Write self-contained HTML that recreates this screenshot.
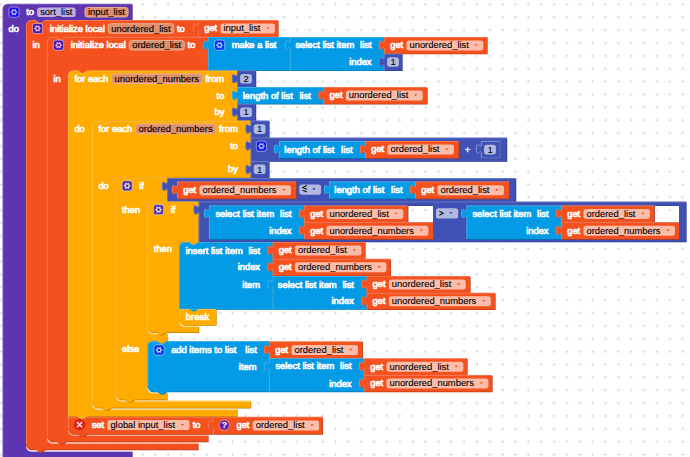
<!DOCTYPE html>
<html><head><meta charset="utf-8"><title>blocks</title>
<style>
html,body{margin:0;padding:0;background:#fff;}
body{width:690px;height:457px;overflow:hidden;}
svg{display:block;}
text{font-family:"Liberation Sans",sans-serif;font-size:9.4px;}
</style></head><body>
<svg width="690" height="457" viewBox="0 0 690 457">
<defs><pattern id="grid" x="-5.33" y="-2.03" width="12.86" height="12.86" patternUnits="userSpaceOnUse">
<path d="M 4.8,6.43 H 8.06 M 6.43,4.8 V 8.06" stroke="#cdcdcd" stroke-width="0.6"/></pattern></defs>
<rect width="690" height="457" fill="#fff"/>
<rect width="690" height="457" fill="url(#grid)"/>
<path d="M 2.5,8.92 A 5.12,5.12 0 0,1 7.62,3.8 H 132 V 20.1 H 45.2 l -3.84,2.56 -1.92,0 -3.84,-2.56 h -4.48 a 5.12,5.12 0 0,0 -5.12,5.12 V 445.88 a 5.12,5.12 0 0,0 5.12,5.12 H 132 V 470 H 7.62 a 5.12,5.12 0 0,1 -5.12,-5.12 z" fill="#462784" fill-rule="evenodd" transform="translate(0.64,0.64)"/>
<path d="M 2.5,8.92 A 5.12,5.12 0 0,1 7.62,3.8 H 132 V 20.1 H 45.2 l -3.84,2.56 -1.92,0 -3.84,-2.56 h -4.48 a 5.12,5.12 0 0,0 -5.12,5.12 V 445.88 a 5.12,5.12 0 0,0 5.12,5.12 H 132 V 470 H 7.62 a 5.12,5.12 0 0,1 -5.12,-5.12 z" fill="#5E35B1" fill-rule="evenodd"/>
<path d="M 26.3,446.28 a 5.12,5.12 0 0,0 5.12,5.12 H 132" fill="none" stroke="#fff" stroke-opacity="0.8" stroke-width="0.9"/>
<path d="M 2.85,464.88 V 8.92 A 5.12,5.12 0 0,1 7.62,4.15 H 132" fill="none" stroke="#fff" stroke-opacity="0.34" stroke-width="0.7"/>
<g transform="translate(8.9,7.08) scale(0.64)" opacity="0.7"><rect width="16" height="16" rx="4" ry="4" fill="#00f" stroke="#fff" stroke-width="1"/><polygon fill="#fff" stroke="#fff" stroke-width="0.8" stroke-linejoin="round" points="13.10,8.00 10.77,9.60 10.55,12.42 8.00,11.20 5.45,12.42 5.23,9.60 2.90,8.00 5.23,6.40 5.45,3.58 8.00,4.80 10.55,3.58 10.77,6.40"/><circle r="2.1" cx="8" cy="8" fill="#00f"/></g>
<text x="26.14" y="15.45" fill="#fff" text-anchor="start" stroke="#fff" stroke-width="0.65">to</text>
<rect x="37.18" y="7.4" width="38.39" height="9.6" rx="2.6" fill="#fff" fill-opacity="0.6"/>
<text x="40.18" y="15.45" fill="#000" text-anchor="start" stroke="#000" stroke-width="0.12">sort_list</text>
<rect x="84.97" y="7.4" width="43.1" height="9.6" rx="2.6" fill="rgb(222,143,108)" stroke="rgb(231,175,150)" stroke-width="1"/>
<text x="87.97" y="15.45" fill="#000" text-anchor="start" stroke="#000" stroke-width="0.12">input_list</text>
<text x="8.6" y="31.65" fill="#fff" text-anchor="start" stroke="#fff" stroke-width="0.65">do</text>
<path d="M 26,25.22 A 5.12,5.12 0 0,1 31.12,20.1 H 35.6 l 3.84,2.56 1.92,0 3.84,-2.56 H 198 v 3.2 c 0,6.4 -5.12,-5.12 -5.12,4.8 s 5.12,-1.6 5.12,4.8 V 36.9 H 66.2 l -3.84,2.56 -1.92,0 -3.84,-2.56 h -4.48 a 5.12,5.12 0 0,0 -5.12,5.12 V 437.68 a 5.12,5.12 0 0,0 5.12,5.12 H 198 V 449.5 H 45.2 l -3.84,2.56 -1.92,0 -3.84,-2.56 H 31.12 a 5.12,5.12 0 0,1 -5.12,-5.12 z" fill="#b73c16" fill-rule="evenodd" transform="translate(0.64,0.64)"/>
<path d="M 26,25.22 A 5.12,5.12 0 0,1 31.12,20.1 H 35.6 l 3.84,2.56 1.92,0 3.84,-2.56 H 198 v 3.2 c 0,6.4 -5.12,-5.12 -5.12,4.8 s 5.12,-1.6 5.12,4.8 V 36.9 H 66.2 l -3.84,2.56 -1.92,0 -3.84,-2.56 h -4.48 a 5.12,5.12 0 0,0 -5.12,5.12 V 437.68 a 5.12,5.12 0 0,0 5.12,5.12 H 198 V 449.5 H 45.2 l -3.84,2.56 -1.92,0 -3.84,-2.56 H 31.12 a 5.12,5.12 0 0,1 -5.12,-5.12 z" fill="#F4511E" fill-rule="evenodd"/>
<path d="M 47.3,438.08 a 5.12,5.12 0 0,0 5.12,5.12 H 198" fill="none" stroke="#fff" stroke-opacity="0.8" stroke-width="0.9"/>
<path d="M 26.35,444.38 V 25.22 A 5.12,5.12 0 0,1 31.12,20.45 H 35.6 l 3.84,2.56 1.92,0 3.84,-2.56 H 198" fill="none" stroke="#fff" stroke-opacity="0.34" stroke-width="0.7"/>
<g transform="translate(32.4,23.38) scale(0.64)" opacity="0.7"><rect width="16" height="16" rx="4" ry="4" fill="#00f" stroke="#fff" stroke-width="1"/><polygon fill="#fff" stroke="#fff" stroke-width="0.8" stroke-linejoin="round" points="13.10,8.00 10.77,9.60 10.55,12.42 8.00,11.20 5.45,12.42 5.23,9.60 2.90,8.00 5.23,6.40 5.45,3.58 8.00,4.80 10.55,3.58 10.77,6.40"/><circle r="2.1" cx="8" cy="8" fill="#00f"/></g>
<text x="49.64" y="31.75" fill="#fff" text-anchor="start" stroke="#fff" stroke-width="0.65">initialize local</text>
<rect x="108.22" y="23.7" width="65.57" height="9.6" rx="2.6" fill="rgb(222,143,108)" stroke="rgb(231,175,150)" stroke-width="1"/>
<text x="111.22" y="31.75" fill="#000" text-anchor="start" stroke="#000" stroke-width="0.12">unordered_list</text>
<text x="177" y="31.75" fill="#fff" text-anchor="start" stroke="#fff" stroke-width="0.65">to</text>
<text x="32.5" y="48.45" fill="#fff" text-anchor="start" stroke="#fff" stroke-width="0.65">in</text>
<path d="M 198,20.1 H 278 V 36.9 H 198 V 32.9 c 0,-6.4 -5.12,5.12 -5.12,-4.8 s 5.12,1.6 5.12,-4.8 z" fill="#b73c16" fill-rule="evenodd" transform="translate(0.64,0.64)"/>
<path d="M 198,20.1 H 278 V 36.9 H 198 V 32.9 c 0,-6.4 -5.12,5.12 -5.12,-4.8 s 5.12,1.6 5.12,-4.8 z" fill="#F4511E" fill-rule="evenodd"/>
<path d="M 198.35,36.9 V 32.9 c 0,-6.4 -5.12,5.12 -5.12,-4.8 s 5.12,1.6 5.12,-4.8 V 20.45 H 278" fill="none" stroke="#fff" stroke-opacity="0.34" stroke-width="0.7"/>
<text x="204.2" y="31.45" fill="#fff" text-anchor="start" stroke="#fff" stroke-width="0.65">get</text>
<rect x="220.47" y="23.6" width="54.4" height="10" rx="2.6" fill="#fff" fill-opacity="0.62"/>
<text x="223.47" y="31.45" fill="#000" text-anchor="start" stroke="#000" stroke-width="0.12">input_list</text>
<path d="M 266.07,27.4 h 3.4 l -1.7,1.9 z" fill="#F4511E"/>
<path d="M 47,42.02 A 5.12,5.12 0 0,1 52.12,36.9 H 56.6 l 3.84,2.56 1.92,0 3.84,-2.56 H 208 v 3.2 c 0,6.4 -5.12,-5.12 -5.12,4.8 s 5.12,-1.6 5.12,4.8 V 70.4 H 87.2 l -3.84,2.56 -1.92,0 -3.84,-2.56 h -4.48 a 5.12,5.12 0 0,0 -5.12,5.12 V 429.68 a 5.12,5.12 0 0,0 5.12,5.12 H 208 V 441.5 H 66.2 l -3.84,2.56 -1.92,0 -3.84,-2.56 H 52.12 a 5.12,5.12 0 0,1 -5.12,-5.12 z" fill="#b73c16" fill-rule="evenodd" transform="translate(0.64,0.64)"/>
<path d="M 47,42.02 A 5.12,5.12 0 0,1 52.12,36.9 H 56.6 l 3.84,2.56 1.92,0 3.84,-2.56 H 208 v 3.2 c 0,6.4 -5.12,-5.12 -5.12,4.8 s 5.12,-1.6 5.12,4.8 V 70.4 H 87.2 l -3.84,2.56 -1.92,0 -3.84,-2.56 h -4.48 a 5.12,5.12 0 0,0 -5.12,5.12 V 429.68 a 5.12,5.12 0 0,0 5.12,5.12 H 208 V 441.5 H 66.2 l -3.84,2.56 -1.92,0 -3.84,-2.56 H 52.12 a 5.12,5.12 0 0,1 -5.12,-5.12 z" fill="#F4511E" fill-rule="evenodd"/>
<path d="M 68.3,430.08 a 5.12,5.12 0 0,0 5.12,5.12 H 208" fill="none" stroke="#fff" stroke-opacity="0.8" stroke-width="0.9"/>
<path d="M 47.35,436.38 V 42.02 A 5.12,5.12 0 0,1 52.12,37.25 H 56.6 l 3.84,2.56 1.92,0 3.84,-2.56 H 208" fill="none" stroke="#fff" stroke-opacity="0.34" stroke-width="0.7"/>
<g transform="translate(53.4,40.08) scale(0.64)" opacity="0.7"><rect width="16" height="16" rx="4" ry="4" fill="#00f" stroke="#fff" stroke-width="1"/><polygon fill="#fff" stroke="#fff" stroke-width="0.8" stroke-linejoin="round" points="13.10,8.00 10.77,9.60 10.55,12.42 8.00,11.20 5.45,12.42 5.23,9.60 2.90,8.00 5.23,6.40 5.45,3.58 8.00,4.80 10.55,3.58 10.77,6.40"/><circle r="2.1" cx="8" cy="8" fill="#00f"/></g>
<text x="70.64" y="48.45" fill="#fff" text-anchor="start" stroke="#fff" stroke-width="0.65">initialize local</text>
<rect x="129.22" y="40.4" width="55.12" height="9.6" rx="2.6" fill="rgb(222,143,108)" stroke="rgb(231,175,150)" stroke-width="1"/>
<text x="132.22" y="48.45" fill="#000" text-anchor="start" stroke="#000" stroke-width="0.12">ordered_list</text>
<text x="187.54" y="48.45" fill="#fff" text-anchor="start" stroke="#fff" stroke-width="0.65">to</text>
<text x="53.5" y="81.95" fill="#fff" text-anchor="start" stroke="#fff" stroke-width="0.65">in</text>
<path d="M 208,36.9 H 290 v 3.2 c 0,6.4 -5.12,-5.12 -5.12,4.8 s 5.12,-1.6 5.12,4.8 V 70.4 H 208 V 49.7 c 0,-6.4 -5.12,5.12 -5.12,-4.8 s 5.12,1.6 5.12,-4.8 z" fill="#0274ab" fill-rule="evenodd" transform="translate(0.64,0.64)"/>
<path d="M 208,36.9 H 290 v 3.2 c 0,6.4 -5.12,-5.12 -5.12,4.8 s 5.12,-1.6 5.12,4.8 V 70.4 H 208 V 49.7 c 0,-6.4 -5.12,5.12 -5.12,-4.8 s 5.12,1.6 5.12,-4.8 z" fill="#039BE5" fill-rule="evenodd"/>
<path d="M 208.35,70.4 V 49.7 c 0,-6.4 -5.12,5.12 -5.12,-4.8 s 5.12,1.6 5.12,-4.8 V 37.25 H 290" fill="none" stroke="#fff" stroke-opacity="0.34" stroke-width="0.7"/>
<g transform="translate(214.4,40.08) scale(0.64)" opacity="0.7"><rect width="16" height="16" rx="4" ry="4" fill="#00f" stroke="#fff" stroke-width="1"/><polygon fill="#fff" stroke="#fff" stroke-width="0.8" stroke-linejoin="round" points="13.10,8.00 10.77,9.60 10.55,12.42 8.00,11.20 5.45,12.42 5.23,9.60 2.90,8.00 5.23,6.40 5.45,3.58 8.00,4.80 10.55,3.58 10.77,6.40"/><circle r="2.1" cx="8" cy="8" fill="#00f"/></g>
<text x="231.64" y="48.45" fill="#fff" text-anchor="start" stroke="#fff" stroke-width="0.65">make a list</text>
<path d="M 290,36.9 H 384 v 3.2 c 0,6.4 -5.12,-5.12 -5.12,4.8 s 5.12,-1.6 5.12,4.8 V 53.65 v 3.2 c 0,6.4 -5.12,-5.12 -5.12,4.8 s 5.12,-1.6 5.12,4.8 V 70.4 H 290 V 49.7 c 0,-6.4 -5.12,5.12 -5.12,-4.8 s 5.12,1.6 5.12,-4.8 z" fill="#0274ab" fill-rule="evenodd" transform="translate(0.64,0.64)"/>
<path d="M 290,36.9 H 384 v 3.2 c 0,6.4 -5.12,-5.12 -5.12,4.8 s 5.12,-1.6 5.12,4.8 V 53.65 v 3.2 c 0,6.4 -5.12,-5.12 -5.12,4.8 s 5.12,-1.6 5.12,4.8 V 70.4 H 290 V 49.7 c 0,-6.4 -5.12,5.12 -5.12,-4.8 s 5.12,1.6 5.12,-4.8 z" fill="#039BE5" fill-rule="evenodd"/>
<path d="M 290.35,70.4 V 49.7 c 0,-6.4 -5.12,5.12 -5.12,-4.8 s 5.12,1.6 5.12,-4.8 V 37.25 H 384" fill="none" stroke="#fff" stroke-opacity="0.34" stroke-width="0.7"/>
<text x="295.39" y="48.05" fill="#fff" text-anchor="start" stroke="#fff" stroke-width="0.65">select list item</text>
<text x="360.11" y="48.05" fill="#fff" text-anchor="start" stroke="#fff" stroke-width="0.65">list</text>
<text x="349.13" y="65.28" fill="#fff" text-anchor="start" stroke="#fff" stroke-width="0.65">index</text>
<path d="M 384,36.9 H 487 V 53.7 H 384 V 49.7 c 0,-6.4 -5.12,5.12 -5.12,-4.8 s 5.12,1.6 5.12,-4.8 z" fill="#b73c16" fill-rule="evenodd" transform="translate(0.64,0.64)"/>
<path d="M 384,36.9 H 487 V 53.7 H 384 V 49.7 c 0,-6.4 -5.12,5.12 -5.12,-4.8 s 5.12,1.6 5.12,-4.8 z" fill="#F4511E" fill-rule="evenodd"/>
<path d="M 384.35,53.7 V 49.7 c 0,-6.4 -5.12,5.12 -5.12,-4.8 s 5.12,1.6 5.12,-4.8 V 37.25 H 487" fill="none" stroke="#fff" stroke-opacity="0.34" stroke-width="0.7"/>
<text x="390.2" y="48.25" fill="#fff" text-anchor="start" stroke="#fff" stroke-width="0.65">get</text>
<rect x="406.47" y="40.4" width="76.87" height="10" rx="2.6" fill="#fff" fill-opacity="0.62"/>
<text x="409.47" y="48.25" fill="#000" text-anchor="start" stroke="#000" stroke-width="0.12">unordered_list</text>
<path d="M 474.54,44.2 h 3.4 l -1.7,1.9 z" fill="#F4511E"/>
<path d="M 384,53.7 H 402 V 70.4 H 384 V 66.5 c 0,-6.4 -5.12,5.12 -5.12,-4.8 s 5.12,1.6 5.12,-4.8 z" fill="#2f3c87" fill-rule="evenodd" transform="translate(0.64,0.64)"/>
<path d="M 384,53.7 H 402 V 70.4 H 384 V 66.5 c 0,-6.4 -5.12,5.12 -5.12,-4.8 s 5.12,1.6 5.12,-4.8 z" fill="#3F51B5" fill-rule="evenodd"/>
<path d="M 384.35,70.4 V 66.5 c 0,-6.4 -5.12,5.12 -5.12,-4.8 s 5.12,1.6 5.12,-4.8 V 54.05 H 402" fill="none" stroke="#fff" stroke-opacity="0.34" stroke-width="0.7"/>
<rect x="387.1" y="57.25" width="11.83" height="9.6" rx="2.6" fill="#fff" fill-opacity="0.6"/>
<text x="390.4" y="65.3" fill="#000" text-anchor="start" stroke="#000" stroke-width="0.1">1</text>
<path d="M 68,75.52 A 5.12,5.12 0 0,1 73.12,70.4 H 77.6 l 3.84,2.56 1.92,0 3.84,-2.56 H 237 v 3.2 c 0,6.4 -5.12,-5.12 -5.12,4.8 s 5.12,-1.6 5.12,4.8 V 87 v 3.2 c 0,6.4 -5.12,-5.12 -5.12,4.8 s 5.12,-1.6 5.12,4.8 V 103.8 v 3.2 c 0,6.4 -5.12,-5.12 -5.12,4.8 s 5.12,-1.6 5.12,4.8 V 120.6 H 111.2 l -3.84,2.56 -1.92,0 -3.84,-2.56 h -4.48 a 5.12,5.12 0 0,0 -5.12,5.12 V 403.78 a 5.12,5.12 0 0,0 5.12,5.12 H 237 V 416.3 H 87.2 l -3.84,2.56 -1.92,0 -3.84,-2.56 H 68 z" fill="#bf8000" fill-rule="evenodd" transform="translate(0.64,0.64)"/>
<path d="M 68,75.52 A 5.12,5.12 0 0,1 73.12,70.4 H 77.6 l 3.84,2.56 1.92,0 3.84,-2.56 H 237 v 3.2 c 0,6.4 -5.12,-5.12 -5.12,4.8 s 5.12,-1.6 5.12,4.8 V 87 v 3.2 c 0,6.4 -5.12,-5.12 -5.12,4.8 s 5.12,-1.6 5.12,4.8 V 103.8 v 3.2 c 0,6.4 -5.12,-5.12 -5.12,4.8 s 5.12,-1.6 5.12,4.8 V 120.6 H 111.2 l -3.84,2.56 -1.92,0 -3.84,-2.56 h -4.48 a 5.12,5.12 0 0,0 -5.12,5.12 V 403.78 a 5.12,5.12 0 0,0 5.12,5.12 H 237 V 416.3 H 87.2 l -3.84,2.56 -1.92,0 -3.84,-2.56 H 68 z" fill="#FFAB00" fill-rule="evenodd"/>
<path d="M 92.3,404.18 a 5.12,5.12 0 0,0 5.12,5.12 H 237" fill="none" stroke="#fff" stroke-opacity="0.8" stroke-width="0.9"/>
<path d="M 68.35,416.3 V 75.52 A 5.12,5.12 0 0,1 73.12,70.75 H 77.6 l 3.84,2.56 1.92,0 3.84,-2.56 H 237" fill="none" stroke="#fff" stroke-opacity="0.34" stroke-width="0.7"/>
<text x="74.4" y="81.95" fill="#fff" text-anchor="start" stroke="#fff" stroke-width="0.65">for each</text>
<rect x="111.57" y="73.9" width="90.66" height="9.6" rx="2.6" fill="rgb(222,143,108)" stroke="rgb(231,175,150)" stroke-width="1"/>
<text x="114.57" y="81.95" fill="#000" text-anchor="start" stroke="#000" stroke-width="0.12">unordered_numbers</text>
<text x="205.42" y="81.95" fill="#fff" text-anchor="start" stroke="#fff" stroke-width="0.65">from</text>
<text x="216.56" y="98.65" fill="#fff" text-anchor="start" stroke="#fff" stroke-width="0.65">to</text>
<text x="214.47" y="115.45" fill="#fff" text-anchor="start" stroke="#fff" stroke-width="0.65">by</text>
<text x="74.4" y="132.15" fill="#fff" text-anchor="start" stroke="#fff" stroke-width="0.65">do</text>
<path d="M 237,70.4 H 255.6 V 87 H 237 V 83.2 c 0,-6.4 -5.12,5.12 -5.12,-4.8 s 5.12,1.6 5.12,-4.8 z" fill="#2f3c87" fill-rule="evenodd" transform="translate(0.64,0.64)"/>
<path d="M 237,70.4 H 255.6 V 87 H 237 V 83.2 c 0,-6.4 -5.12,5.12 -5.12,-4.8 s 5.12,1.6 5.12,-4.8 z" fill="#3F51B5" fill-rule="evenodd"/>
<path d="M 237.35,87 V 83.2 c 0,-6.4 -5.12,5.12 -5.12,-4.8 s 5.12,1.6 5.12,-4.8 V 70.75 H 255.6" fill="none" stroke="#fff" stroke-opacity="0.34" stroke-width="0.7"/>
<rect x="240.1" y="73.9" width="11.83" height="9.6" rx="2.6" fill="#fff" fill-opacity="0.6"/>
<text x="243.4" y="81.95" fill="#000" text-anchor="start" stroke="#000" stroke-width="0.1">2</text>
<path d="M 237,87 H 323.4 v 3.2 c 0,6.4 -5.12,-5.12 -5.12,4.8 s 5.12,-1.6 5.12,4.8 V 103.8 H 237 V 99.8 c 0,-6.4 -5.12,5.12 -5.12,-4.8 s 5.12,1.6 5.12,-4.8 z" fill="#0274ab" fill-rule="evenodd" transform="translate(0.64,0.64)"/>
<path d="M 237,87 H 323.4 v 3.2 c 0,6.4 -5.12,-5.12 -5.12,4.8 s 5.12,-1.6 5.12,4.8 V 103.8 H 237 V 99.8 c 0,-6.4 -5.12,5.12 -5.12,-4.8 s 5.12,1.6 5.12,-4.8 z" fill="#039BE5" fill-rule="evenodd"/>
<path d="M 237.35,103.8 V 99.8 c 0,-6.4 -5.12,5.12 -5.12,-4.8 s 5.12,1.6 5.12,-4.8 V 87.35 H 323.4" fill="none" stroke="#fff" stroke-opacity="0.34" stroke-width="0.7"/>
<text x="242.75" y="98.65" fill="#fff" text-anchor="start" stroke="#fff" stroke-width="0.65">length of list</text>
<text x="299.51" y="98.65" fill="#fff" text-anchor="start" stroke="#fff" stroke-width="0.65">list</text>
<path d="M 323.4,87 H 427 V 103.8 H 323.4 V 99.8 c 0,-6.4 -5.12,5.12 -5.12,-4.8 s 5.12,1.6 5.12,-4.8 z" fill="#b73c16" fill-rule="evenodd" transform="translate(0.64,0.64)"/>
<path d="M 323.4,87 H 427 V 103.8 H 323.4 V 99.8 c 0,-6.4 -5.12,5.12 -5.12,-4.8 s 5.12,1.6 5.12,-4.8 z" fill="#F4511E" fill-rule="evenodd"/>
<path d="M 323.75,103.8 V 99.8 c 0,-6.4 -5.12,5.12 -5.12,-4.8 s 5.12,1.6 5.12,-4.8 V 87.35 H 427" fill="none" stroke="#fff" stroke-opacity="0.34" stroke-width="0.7"/>
<text x="329.6" y="98.35" fill="#fff" text-anchor="start" stroke="#fff" stroke-width="0.65">get</text>
<rect x="345.87" y="90.5" width="76.87" height="10" rx="2.6" fill="#fff" fill-opacity="0.62"/>
<text x="348.87" y="98.35" fill="#000" text-anchor="start" stroke="#000" stroke-width="0.12">unordered_list</text>
<path d="M 413.94,94.3 h 3.4 l -1.7,1.9 z" fill="#F4511E"/>
<path d="M 237,103.8 H 255.6 V 120.6 H 237 V 116.6 c 0,-6.4 -5.12,5.12 -5.12,-4.8 s 5.12,1.6 5.12,-4.8 z" fill="#2f3c87" fill-rule="evenodd" transform="translate(0.64,0.64)"/>
<path d="M 237,103.8 H 255.6 V 120.6 H 237 V 116.6 c 0,-6.4 -5.12,5.12 -5.12,-4.8 s 5.12,1.6 5.12,-4.8 z" fill="#3F51B5" fill-rule="evenodd"/>
<path d="M 237.35,120.6 V 116.6 c 0,-6.4 -5.12,5.12 -5.12,-4.8 s 5.12,1.6 5.12,-4.8 V 104.15 H 255.6" fill="none" stroke="#fff" stroke-opacity="0.34" stroke-width="0.7"/>
<rect x="240.1" y="107.4" width="11.83" height="9.6" rx="2.6" fill="#fff" fill-opacity="0.6"/>
<text x="243.4" y="115.45" fill="#000" text-anchor="start" stroke="#000" stroke-width="0.1">1</text>
<path d="M 68,416.8 H 77.6 l 3.84,2.56 1.92,0 3.84,-2.56 H 213 v 3.2 c 0,6.4 -5.12,-5.12 -5.12,4.8 s 5.12,-1.6 5.12,4.8 V 434 H 87.2 l -3.84,2.56 -1.92,0 -3.84,-2.56 H 73.12 a 5.12,5.12 0 0,1 -5.12,-5.12 z" fill="#b73c16" fill-rule="evenodd" transform="translate(0.64,0.64)"/>
<path d="M 68,416.8 H 77.6 l 3.84,2.56 1.92,0 3.84,-2.56 H 213 v 3.2 c 0,6.4 -5.12,-5.12 -5.12,4.8 s 5.12,-1.6 5.12,4.8 V 434 H 87.2 l -3.84,2.56 -1.92,0 -3.84,-2.56 H 73.12 a 5.12,5.12 0 0,1 -5.12,-5.12 z" fill="#F4511E" fill-rule="evenodd"/>
<path d="M 68.35,428.88 V 417.15 H 213" fill="none" stroke="#fff" stroke-opacity="0.34" stroke-width="0.7"/>
<g transform="translate(79.52,424.7)"><circle r="5.12" fill="#e6251c" stroke="#b5140e" stroke-width="0.8"/><path d="M -2.2,-2.2 L 2.2,2.2 M 2.2,-2.2 L -2.2,2.2" stroke="#fff" stroke-width="1.25" stroke-linecap="round"/></g>
<text x="91.64" y="427.95" fill="#fff" text-anchor="start" stroke="#fff" stroke-width="0.65">set</text>
<rect x="107.38" y="420.1" width="82.1" height="10" rx="2.6" fill="#fff" fill-opacity="0.62"/>
<text x="110.38" y="427.95" fill="#000" text-anchor="start" stroke="#000" stroke-width="0.12">global input_list</text>
<path d="M 180.68,423.9 h 3.4 l -1.7,1.9 z" fill="#F4511E"/>
<text x="192.68" y="427.95" fill="#fff" text-anchor="start" stroke="#fff" stroke-width="0.65">to</text>
<path d="M 213,416.8 H 322.4 V 434 H 213 V 429.6 c 0,-6.4 -5.12,5.12 -5.12,-4.8 s 5.12,1.6 5.12,-4.8 z" fill="#b73c16" fill-rule="evenodd" transform="translate(0.64,0.64)"/>
<path d="M 213,416.8 H 322.4 V 434 H 213 V 429.6 c 0,-6.4 -5.12,5.12 -5.12,-4.8 s 5.12,1.6 5.12,-4.8 z" fill="#F4511E" fill-rule="evenodd"/>
<path d="M 213.35,434 V 429.6 c 0,-6.4 -5.12,5.12 -5.12,-4.8 s 5.12,1.6 5.12,-4.8 V 417.15 H 322.4" fill="none" stroke="#fff" stroke-opacity="0.34" stroke-width="0.7"/>
<g transform="translate(224.32,425.1)"><circle r="5.12" fill="#00f" stroke="#fff" stroke-width="0.6" opacity="0.62"/><text x="0" y="2.6" fill="#fff" text-anchor="middle" font-weight="bold" font-size="7.4">?</text></g>
<text x="236.44" y="428.35" fill="#fff" text-anchor="start" stroke="#fff" stroke-width="0.65">get</text>
<rect x="252.71" y="420.5" width="66.42" height="10" rx="2.6" fill="#fff" fill-opacity="0.62"/>
<text x="255.71" y="428.35" fill="#000" text-anchor="start" stroke="#000" stroke-width="0.12">ordered_list</text>
<path d="M 310.33,424.3 h 3.4 l -1.7,1.9 z" fill="#F4511E"/>
<path d="M 92,125.72 A 5.12,5.12 0 0,1 97.12,120.6 H 101.6 l 3.84,2.56 1.92,0 3.84,-2.56 H 250.6 v 3.2 c 0,6.4 -5.12,-5.12 -5.12,4.8 s 5.12,-1.6 5.12,4.8 V 137.6 v 3.2 c 0,6.4 -5.12,-5.12 -5.12,4.8 s 5.12,-1.6 5.12,4.8 V 161.2 v 3.2 c 0,6.4 -5.12,-5.12 -5.12,4.8 s 5.12,-1.6 5.12,4.8 V 177.4 H 134.8 l -3.84,2.56 -1.92,0 -3.84,-2.56 h -4.48 a 5.12,5.12 0 0,0 -5.12,5.12 V 395.48 a 5.12,5.12 0 0,0 5.12,5.12 H 250.6 V 407.8 H 111.2 l -3.84,2.56 -1.92,0 -3.84,-2.56 H 97.12 a 5.12,5.12 0 0,1 -5.12,-5.12 z" fill="#bf8000" fill-rule="evenodd" transform="translate(0.64,0.64)"/>
<path d="M 92,125.72 A 5.12,5.12 0 0,1 97.12,120.6 H 101.6 l 3.84,2.56 1.92,0 3.84,-2.56 H 250.6 v 3.2 c 0,6.4 -5.12,-5.12 -5.12,4.8 s 5.12,-1.6 5.12,4.8 V 137.6 v 3.2 c 0,6.4 -5.12,-5.12 -5.12,4.8 s 5.12,-1.6 5.12,4.8 V 161.2 v 3.2 c 0,6.4 -5.12,-5.12 -5.12,4.8 s 5.12,-1.6 5.12,4.8 V 177.4 H 134.8 l -3.84,2.56 -1.92,0 -3.84,-2.56 h -4.48 a 5.12,5.12 0 0,0 -5.12,5.12 V 395.48 a 5.12,5.12 0 0,0 5.12,5.12 H 250.6 V 407.8 H 111.2 l -3.84,2.56 -1.92,0 -3.84,-2.56 H 97.12 a 5.12,5.12 0 0,1 -5.12,-5.12 z" fill="#FFAB00" fill-rule="evenodd"/>
<path d="M 115.9,395.88 a 5.12,5.12 0 0,0 5.12,5.12 H 250.6" fill="none" stroke="#fff" stroke-opacity="0.8" stroke-width="0.9"/>
<path d="M 92.35,402.68 V 125.72 A 5.12,5.12 0 0,1 97.12,120.95 H 101.6 l 3.84,2.56 1.92,0 3.84,-2.56 H 250.6" fill="none" stroke="#fff" stroke-opacity="0.34" stroke-width="0.7"/>
<text x="98.4" y="132.15" fill="#fff" text-anchor="start" stroke="#fff" stroke-width="0.65">for each</text>
<rect x="135.57" y="124.1" width="80.2" height="9.6" rx="2.6" fill="rgb(222,143,108)" stroke="rgb(231,175,150)" stroke-width="1"/>
<text x="138.57" y="132.15" fill="#000" text-anchor="start" stroke="#000" stroke-width="0.12">ordered_numbers</text>
<text x="218.97" y="132.15" fill="#fff" text-anchor="start" stroke="#fff" stroke-width="0.65">from</text>
<text x="230.16" y="149.15" fill="#fff" text-anchor="start" stroke="#fff" stroke-width="0.65">to</text>
<text x="228.07" y="171.95" fill="#fff" text-anchor="start" stroke="#fff" stroke-width="0.65">by</text>
<text x="98.4" y="189.05" fill="#fff" text-anchor="start" stroke="#fff" stroke-width="0.65">do</text>
<path d="M 250.6,120.6 H 269 V 137.6 H 250.6 V 133.4 c 0,-6.4 -5.12,5.12 -5.12,-4.8 s 5.12,1.6 5.12,-4.8 z" fill="#2f3c87" fill-rule="evenodd" transform="translate(0.64,0.64)"/>
<path d="M 250.6,120.6 H 269 V 137.6 H 250.6 V 133.4 c 0,-6.4 -5.12,5.12 -5.12,-4.8 s 5.12,1.6 5.12,-4.8 z" fill="#3F51B5" fill-rule="evenodd"/>
<path d="M 250.95,137.6 V 133.4 c 0,-6.4 -5.12,5.12 -5.12,-4.8 s 5.12,1.6 5.12,-4.8 V 120.95 H 269" fill="none" stroke="#fff" stroke-opacity="0.34" stroke-width="0.7"/>
<rect x="253.7" y="124.3" width="11.83" height="9.6" rx="2.6" fill="#fff" fill-opacity="0.6"/>
<text x="257" y="132.35" fill="#000" text-anchor="start" stroke="#000" stroke-width="0.1">1</text>
<path d="M 250.6,137.6 H 506.6 V 161.2 H 250.6 V 150.4 c 0,-6.4 -5.12,5.12 -5.12,-4.8 s 5.12,1.6 5.12,-4.8 z" fill="#2f3c87" fill-rule="evenodd" transform="translate(0.64,0.64)"/>
<path d="M 250.6,137.6 H 506.6 V 161.2 H 250.6 V 150.4 c 0,-6.4 -5.12,5.12 -5.12,-4.8 s 5.12,1.6 5.12,-4.8 z" fill="#3F51B5" fill-rule="evenodd"/>
<path d="M 250.95,161.2 V 150.4 c 0,-6.4 -5.12,5.12 -5.12,-4.8 s 5.12,1.6 5.12,-4.8 V 137.95 H 506.6" fill="none" stroke="#fff" stroke-opacity="0.34" stroke-width="0.7"/>
<g transform="translate(256.3,141.08) scale(0.64)" opacity="0.7"><rect width="16" height="16" rx="4" ry="4" fill="#00f" stroke="#fff" stroke-width="1"/><polygon fill="#fff" stroke="#fff" stroke-width="0.8" stroke-linejoin="round" points="13.10,8.00 10.77,9.60 10.55,12.42 8.00,11.20 5.45,12.42 5.23,9.60 2.90,8.00 5.23,6.40 5.45,3.58 8.00,4.80 10.55,3.58 10.77,6.40"/><circle r="2.1" cx="8" cy="8" fill="#00f"/></g>
<path d="M 279,141 H 365 v 3.2 c 0,6.4 -5.12,-5.12 -5.12,4.8 s 5.12,-1.6 5.12,4.8 V 158 H 279 V 153.8 c 0,-6.4 -5.12,5.12 -5.12,-4.8 s 5.12,1.6 5.12,-4.8 z" fill="#0274ab" fill-rule="evenodd" transform="translate(0.64,0.64)"/>
<path d="M 279,141 H 365 v 3.2 c 0,6.4 -5.12,-5.12 -5.12,4.8 s 5.12,-1.6 5.12,4.8 V 158 H 279 V 153.8 c 0,-6.4 -5.12,5.12 -5.12,-4.8 s 5.12,1.6 5.12,-4.8 z" fill="#039BE5" fill-rule="evenodd"/>
<path d="M 279.35,158 V 153.8 c 0,-6.4 -5.12,5.12 -5.12,-4.8 s 5.12,1.6 5.12,-4.8 V 141.35 H 365" fill="none" stroke="#fff" stroke-opacity="0.34" stroke-width="0.7"/>
<text x="284.35" y="152.75" fill="#fff" text-anchor="start" stroke="#fff" stroke-width="0.65">length of list</text>
<text x="341.11" y="152.75" fill="#fff" text-anchor="start" stroke="#fff" stroke-width="0.65">list</text>
<path d="M 365,141 H 458.4 V 158 H 365 V 153.8 c 0,-6.4 -5.12,5.12 -5.12,-4.8 s 5.12,1.6 5.12,-4.8 z" fill="#b73c16" fill-rule="evenodd" transform="translate(0.64,0.64)"/>
<path d="M 365,141 H 458.4 V 158 H 365 V 153.8 c 0,-6.4 -5.12,5.12 -5.12,-4.8 s 5.12,1.6 5.12,-4.8 z" fill="#F4511E" fill-rule="evenodd"/>
<path d="M 365.35,158 V 153.8 c 0,-6.4 -5.12,5.12 -5.12,-4.8 s 5.12,1.6 5.12,-4.8 V 141.35 H 458.4" fill="none" stroke="#fff" stroke-opacity="0.34" stroke-width="0.7"/>
<text x="371.2" y="152.45" fill="#fff" text-anchor="start" stroke="#fff" stroke-width="0.65">get</text>
<rect x="387.47" y="144.6" width="66.42" height="10" rx="2.6" fill="#fff" fill-opacity="0.62"/>
<text x="390.47" y="152.45" fill="#000" text-anchor="start" stroke="#000" stroke-width="0.12">ordered_list</text>
<path d="M 445.09,148.4 h 3.4 l -1.7,1.9 z" fill="#F4511E"/>
<text x="467.4" y="152.75" fill="#fff" text-anchor="middle" stroke="#fff" stroke-width="0.4">+</text>
<path d="M 481,141 H 500.4 V 158.2 H 481 V 153.8 c 0,-6.4 -5.12,5.12 -5.12,-4.8 s 5.12,1.6 5.12,-4.8 z" fill="#2f3c87" fill-rule="evenodd" transform="translate(0.64,0.64)"/>
<path d="M 481,141 H 500.4 V 158.2 H 481 V 153.8 c 0,-6.4 -5.12,5.12 -5.12,-4.8 s 5.12,1.6 5.12,-4.8 z" fill="#3F51B5" fill-rule="evenodd"/>
<path d="M 481.35,158.2 V 153.8 c 0,-6.4 -5.12,5.12 -5.12,-4.8 s 5.12,1.6 5.12,-4.8 V 141.35 H 500.4" fill="none" stroke="#fff" stroke-opacity="0.55" stroke-width="0.7"/>
<rect x="484.1" y="144.8" width="11.83" height="9.6" rx="2.6" fill="#fff" fill-opacity="0.6"/>
<text x="487.4" y="152.85" fill="#000" text-anchor="start" stroke="#000" stroke-width="0.1">1</text>
<path d="M 481.3,158 H 500.2 V 141.3" fill="none" stroke="#fff" stroke-opacity="0.35" stroke-width="0.7"/>
<path d="M 250.6,161.2 H 269 V 177.4 H 250.6 V 174 c 0,-6.4 -5.12,5.12 -5.12,-4.8 s 5.12,1.6 5.12,-4.8 z" fill="#2f3c87" fill-rule="evenodd" transform="translate(0.64,0.64)"/>
<path d="M 250.6,161.2 H 269 V 177.4 H 250.6 V 174 c 0,-6.4 -5.12,5.12 -5.12,-4.8 s 5.12,1.6 5.12,-4.8 z" fill="#3F51B5" fill-rule="evenodd"/>
<path d="M 250.95,177.4 V 174 c 0,-6.4 -5.12,5.12 -5.12,-4.8 s 5.12,1.6 5.12,-4.8 V 161.55 H 269" fill="none" stroke="#fff" stroke-opacity="0.34" stroke-width="0.7"/>
<rect x="253.7" y="164.5" width="11.83" height="9.6" rx="2.6" fill="#fff" fill-opacity="0.6"/>
<text x="257" y="172.55" fill="#000" text-anchor="start" stroke="#000" stroke-width="0.1">1</text>
<path d="M 115.6,182.52 A 5.12,5.12 0 0,1 120.72,177.4 H 125.2 l 3.84,2.56 1.92,0 3.84,-2.56 H 167 v 3.2 c 0,6.4 -5.12,-5.12 -5.12,4.8 s 5.12,-1.6 5.12,4.8 V 201.4 H 166.2 l -3.84,2.56 -1.92,0 -3.84,-2.56 h -4.48 a 5.12,5.12 0 0,0 -5.12,5.12 V 328.08 a 5.12,5.12 0 0,0 5.12,5.12 H 167 V 340.7 H 166.2 l -3.84,2.56 -1.92,0 -3.84,-2.56 h -4.48 a 5.12,5.12 0 0,0 -5.12,5.12 V 387.38 a 5.12,5.12 0 0,0 5.12,5.12 H 167 V 399.5 H 134.8 l -3.84,2.56 -1.92,0 -3.84,-2.56 H 120.72 a 5.12,5.12 0 0,1 -5.12,-5.12 z" fill="#bf8000" fill-rule="evenodd" transform="translate(0.64,0.64)"/>
<path d="M 115.6,182.52 A 5.12,5.12 0 0,1 120.72,177.4 H 125.2 l 3.84,2.56 1.92,0 3.84,-2.56 H 167 v 3.2 c 0,6.4 -5.12,-5.12 -5.12,4.8 s 5.12,-1.6 5.12,4.8 V 201.4 H 166.2 l -3.84,2.56 -1.92,0 -3.84,-2.56 h -4.48 a 5.12,5.12 0 0,0 -5.12,5.12 V 328.08 a 5.12,5.12 0 0,0 5.12,5.12 H 167 V 340.7 H 166.2 l -3.84,2.56 -1.92,0 -3.84,-2.56 h -4.48 a 5.12,5.12 0 0,0 -5.12,5.12 V 387.38 a 5.12,5.12 0 0,0 5.12,5.12 H 167 V 399.5 H 134.8 l -3.84,2.56 -1.92,0 -3.84,-2.56 H 120.72 a 5.12,5.12 0 0,1 -5.12,-5.12 z" fill="#FFAB00" fill-rule="evenodd"/>
<path d="M 147.3,328.48 a 5.12,5.12 0 0,0 5.12,5.12 H 167 M 147.3,387.78 a 5.12,5.12 0 0,0 5.12,5.12 H 167" fill="none" stroke="#fff" stroke-opacity="0.8" stroke-width="0.9"/>
<path d="M 115.95,394.38 V 182.52 A 5.12,5.12 0 0,1 120.72,177.75 H 125.2 l 3.84,2.56 1.92,0 3.84,-2.56 H 167" fill="none" stroke="#fff" stroke-opacity="0.34" stroke-width="0.7"/>
<g transform="translate(122,180.68) scale(0.64)" opacity="0.7"><rect width="16" height="16" rx="4" ry="4" fill="#00f" stroke="#fff" stroke-width="1"/><polygon fill="#fff" stroke="#fff" stroke-width="0.8" stroke-linejoin="round" points="13.10,8.00 10.77,9.60 10.55,12.42 8.00,11.20 5.45,12.42 5.23,9.60 2.90,8.00 5.23,6.40 5.45,3.58 8.00,4.80 10.55,3.58 10.77,6.40"/><circle r="2.1" cx="8" cy="8" fill="#00f"/></g>
<text x="139.24" y="189.05" fill="#fff" text-anchor="start" stroke="#fff" stroke-width="0.65">if</text>
<text x="122" y="212.95" fill="#fff" text-anchor="start" stroke="#fff" stroke-width="0.65">then</text>
<text x="122" y="352.25" fill="#fff" text-anchor="start" stroke="#fff" stroke-width="0.65">else</text>
<path d="M 167,178 H 515.6 V 201.5 H 167 V 190.8 c 0,-6.4 -5.12,5.12 -5.12,-4.8 s 5.12,1.6 5.12,-4.8 z" fill="#2f3c87" fill-rule="evenodd" transform="translate(0.64,0.64)"/>
<path d="M 167,178 H 515.6 V 201.5 H 167 V 190.8 c 0,-6.4 -5.12,5.12 -5.12,-4.8 s 5.12,1.6 5.12,-4.8 z" fill="#3F51B5" fill-rule="evenodd"/>
<path d="M 167.35,201.5 V 190.8 c 0,-6.4 -5.12,5.12 -5.12,-4.8 s 5.12,1.6 5.12,-4.8 V 178.35 H 515.6" fill="none" stroke="#fff" stroke-opacity="0.34" stroke-width="0.7"/>
<path d="M 177,181.6 H 296 V 198.6 H 177 V 194.4 c 0,-6.4 -5.12,5.12 -5.12,-4.8 s 5.12,1.6 5.12,-4.8 z" fill="#b73c16" fill-rule="evenodd" transform="translate(0.64,0.64)"/>
<path d="M 177,181.6 H 296 V 198.6 H 177 V 194.4 c 0,-6.4 -5.12,5.12 -5.12,-4.8 s 5.12,1.6 5.12,-4.8 z" fill="#F4511E" fill-rule="evenodd"/>
<path d="M 177.35,198.6 V 194.4 c 0,-6.4 -5.12,5.12 -5.12,-4.8 s 5.12,1.6 5.12,-4.8 V 181.95 H 296" fill="none" stroke="#fff" stroke-opacity="0.34" stroke-width="0.7"/>
<text x="183.2" y="193.15" fill="#fff" text-anchor="start" stroke="#fff" stroke-width="0.65">get</text>
<rect x="199.47" y="185.3" width="91.5" height="10" rx="2.6" fill="#fff" fill-opacity="0.62"/>
<text x="202.47" y="193.15" fill="#000" text-anchor="start" stroke="#000" stroke-width="0.12">ordered_numbers</text>
<path d="M 282.17,189.1 h 3.4 l -1.7,1.9 z" fill="#F4511E"/>
<rect x="299.3" y="184.4" width="21.8" height="10.3" rx="2.6" fill="#fff" fill-opacity="0.6"/>
<path d="M 306.9,185.6 l -4.2,1.9 l 4.2,1.9 M 302.7,190.2 l 4.2,1.9" fill="none" stroke="#111" stroke-width="1.05"/>
<path d="M 312.2,188.3 h 3.4 l -1.7,1.9 z" fill="#354499"/>
<path d="M 329,181.6 H 415 v 3.2 c 0,6.4 -5.12,-5.12 -5.12,4.8 s 5.12,-1.6 5.12,4.8 V 198.6 H 329 V 194.4 c 0,-6.4 -5.12,5.12 -5.12,-4.8 s 5.12,1.6 5.12,-4.8 z" fill="#0274ab" fill-rule="evenodd" transform="translate(0.64,0.64)"/>
<path d="M 329,181.6 H 415 v 3.2 c 0,6.4 -5.12,-5.12 -5.12,4.8 s 5.12,-1.6 5.12,4.8 V 198.6 H 329 V 194.4 c 0,-6.4 -5.12,5.12 -5.12,-4.8 s 5.12,1.6 5.12,-4.8 z" fill="#039BE5" fill-rule="evenodd"/>
<path d="M 329.35,198.6 V 194.4 c 0,-6.4 -5.12,5.12 -5.12,-4.8 s 5.12,1.6 5.12,-4.8 V 181.95 H 415" fill="none" stroke="#fff" stroke-opacity="0.34" stroke-width="0.7"/>
<text x="334.35" y="192.75" fill="#fff" text-anchor="start" stroke="#fff" stroke-width="0.65">length of list</text>
<text x="391.11" y="192.75" fill="#fff" text-anchor="start" stroke="#fff" stroke-width="0.65">list</text>
<path d="M 415,181.6 H 509 V 198.6 H 415 V 194.4 c 0,-6.4 -5.12,5.12 -5.12,-4.8 s 5.12,1.6 5.12,-4.8 z" fill="#b73c16" fill-rule="evenodd" transform="translate(0.64,0.64)"/>
<path d="M 415,181.6 H 509 V 198.6 H 415 V 194.4 c 0,-6.4 -5.12,5.12 -5.12,-4.8 s 5.12,1.6 5.12,-4.8 z" fill="#F4511E" fill-rule="evenodd"/>
<path d="M 415.35,198.6 V 194.4 c 0,-6.4 -5.12,5.12 -5.12,-4.8 s 5.12,1.6 5.12,-4.8 V 181.95 H 509" fill="none" stroke="#fff" stroke-opacity="0.34" stroke-width="0.7"/>
<text x="421.2" y="193.15" fill="#fff" text-anchor="start" stroke="#fff" stroke-width="0.65">get</text>
<rect x="437.47" y="185.3" width="66.42" height="10" rx="2.6" fill="#fff" fill-opacity="0.62"/>
<text x="440.47" y="193.15" fill="#000" text-anchor="start" stroke="#000" stroke-width="0.12">ordered_list</text>
<path d="M 495.09,189.1 h 3.4 l -1.7,1.9 z" fill="#F4511E"/>
<path d="M 147,206.52 A 5.12,5.12 0 0,1 152.12,201.4 H 156.6 l 3.84,2.56 1.92,0 3.84,-2.56 H 198.6 v 3.2 c 0,6.4 -5.12,-5.12 -5.12,4.8 s 5.12,-1.6 5.12,4.8 V 242 H 198.2 l -3.84,2.56 -1.92,0 -3.84,-2.56 h -4.48 a 5.12,5.12 0 0,0 -5.12,5.12 V 320.88 a 5.12,5.12 0 0,0 5.12,5.12 H 198.6 V 332.3 H 166.2 l -3.84,2.56 -1.92,0 -3.84,-2.56 H 152.12 a 5.12,5.12 0 0,1 -5.12,-5.12 z" fill="#bf8000" fill-rule="evenodd" transform="translate(0.64,0.64)"/>
<path d="M 147,206.52 A 5.12,5.12 0 0,1 152.12,201.4 H 156.6 l 3.84,2.56 1.92,0 3.84,-2.56 H 198.6 v 3.2 c 0,6.4 -5.12,-5.12 -5.12,4.8 s 5.12,-1.6 5.12,4.8 V 242 H 198.2 l -3.84,2.56 -1.92,0 -3.84,-2.56 h -4.48 a 5.12,5.12 0 0,0 -5.12,5.12 V 320.88 a 5.12,5.12 0 0,0 5.12,5.12 H 198.6 V 332.3 H 166.2 l -3.84,2.56 -1.92,0 -3.84,-2.56 H 152.12 a 5.12,5.12 0 0,1 -5.12,-5.12 z" fill="#FFAB00" fill-rule="evenodd"/>
<path d="M 179.3,321.28 a 5.12,5.12 0 0,0 5.12,5.12 H 198.6" fill="none" stroke="#fff" stroke-opacity="0.8" stroke-width="0.9"/>
<path d="M 147.35,327.18 V 206.52 A 5.12,5.12 0 0,1 152.12,201.75 H 156.6 l 3.84,2.56 1.92,0 3.84,-2.56 H 198.6" fill="none" stroke="#fff" stroke-opacity="0.34" stroke-width="0.7"/>
<g transform="translate(153.4,204.58) scale(0.64)" opacity="0.7"><rect width="16" height="16" rx="4" ry="4" fill="#00f" stroke="#fff" stroke-width="1"/><polygon fill="#fff" stroke="#fff" stroke-width="0.8" stroke-linejoin="round" points="13.10,8.00 10.77,9.60 10.55,12.42 8.00,11.20 5.45,12.42 5.23,9.60 2.90,8.00 5.23,6.40 5.45,3.58 8.00,4.80 10.55,3.58 10.77,6.40"/><circle r="2.1" cx="8" cy="8" fill="#00f"/></g>
<text x="170.64" y="212.95" fill="#fff" text-anchor="start" stroke="#fff" stroke-width="0.65">if</text>
<text x="153.8" y="252.25" fill="#fff" text-anchor="start" stroke="#fff" stroke-width="0.65">then</text>
<path d="M 198.6,201.6 H 686 V 241.6 H 198.6 V 214.4 c 0,-6.4 -5.12,5.12 -5.12,-4.8 s 5.12,1.6 5.12,-4.8 z M 407.6,205.4 V 222 H 433 V 205.4 z M 654,205.4 V 222 H 679 V 205.4 z" fill="#2f3c87" fill-rule="evenodd" transform="translate(0.64,0.64)"/>
<path d="M 198.6,201.6 H 686 V 241.6 H 198.6 V 214.4 c 0,-6.4 -5.12,5.12 -5.12,-4.8 s 5.12,1.6 5.12,-4.8 z M 407.6,205.4 V 222 H 433 V 205.4 z M 654,205.4 V 222 H 679 V 205.4 z" fill="#3F51B5" fill-rule="evenodd"/>
<path d="M 198.95,241.6 V 214.4 c 0,-6.4 -5.12,5.12 -5.12,-4.8 s 5.12,1.6 5.12,-4.8 V 201.95 H 686" fill="none" stroke="#fff" stroke-opacity="0.34" stroke-width="0.7"/>
<path d="M 209,205.4 H 304 v 3.2 c 0,6.4 -5.12,-5.12 -5.12,4.8 s 5.12,-1.6 5.12,4.8 V 222.2 v 3.2 c 0,6.4 -5.12,-5.12 -5.12,4.8 s 5.12,-1.6 5.12,4.8 V 239 H 209 V 218.2 c 0,-6.4 -5.12,5.12 -5.12,-4.8 s 5.12,1.6 5.12,-4.8 z" fill="#0274ab" fill-rule="evenodd" transform="translate(0.64,0.64)"/>
<path d="M 209,205.4 H 304 v 3.2 c 0,6.4 -5.12,-5.12 -5.12,4.8 s 5.12,-1.6 5.12,4.8 V 222.2 v 3.2 c 0,6.4 -5.12,-5.12 -5.12,4.8 s 5.12,-1.6 5.12,4.8 V 239 H 209 V 218.2 c 0,-6.4 -5.12,5.12 -5.12,-4.8 s 5.12,1.6 5.12,-4.8 z" fill="#039BE5" fill-rule="evenodd"/>
<path d="M 209.35,239 V 218.2 c 0,-6.4 -5.12,5.12 -5.12,-4.8 s 5.12,1.6 5.12,-4.8 V 205.75 H 304" fill="none" stroke="#fff" stroke-opacity="0.34" stroke-width="0.7"/>
<text x="215.39" y="216.55" fill="#fff" text-anchor="start" stroke="#fff" stroke-width="0.65">select list item</text>
<text x="280.11" y="216.55" fill="#fff" text-anchor="start" stroke="#fff" stroke-width="0.65">list</text>
<text x="269.13" y="233.85" fill="#fff" text-anchor="start" stroke="#fff" stroke-width="0.65">index</text>
<path d="M 304,205.4 H 407.6 V 222.2 H 304 V 218.2 c 0,-6.4 -5.12,5.12 -5.12,-4.8 s 5.12,1.6 5.12,-4.8 z" fill="#b73c16" fill-rule="evenodd" transform="translate(0.64,0.64)"/>
<path d="M 304,205.4 H 407.6 V 222.2 H 304 V 218.2 c 0,-6.4 -5.12,5.12 -5.12,-4.8 s 5.12,1.6 5.12,-4.8 z" fill="#F4511E" fill-rule="evenodd"/>
<path d="M 304.35,222.2 V 218.2 c 0,-6.4 -5.12,5.12 -5.12,-4.8 s 5.12,1.6 5.12,-4.8 V 205.75 H 407.6" fill="none" stroke="#fff" stroke-opacity="0.34" stroke-width="0.7"/>
<text x="310.2" y="216.75" fill="#fff" text-anchor="start" stroke="#fff" stroke-width="0.65">get</text>
<rect x="326.47" y="208.9" width="76.87" height="10" rx="2.6" fill="#fff" fill-opacity="0.62"/>
<text x="329.47" y="216.75" fill="#000" text-anchor="start" stroke="#000" stroke-width="0.12">unordered_list</text>
<path d="M 394.54,212.7 h 3.4 l -1.7,1.9 z" fill="#F4511E"/>
<path d="M 304,222.2 H 433 V 239 H 304 V 235 c 0,-6.4 -5.12,5.12 -5.12,-4.8 s 5.12,1.6 5.12,-4.8 z" fill="#b73c16" fill-rule="evenodd" transform="translate(0.64,0.64)"/>
<path d="M 304,222.2 H 433 V 239 H 304 V 235 c 0,-6.4 -5.12,5.12 -5.12,-4.8 s 5.12,1.6 5.12,-4.8 z" fill="#F4511E" fill-rule="evenodd"/>
<path d="M 304.35,239 V 235 c 0,-6.4 -5.12,5.12 -5.12,-4.8 s 5.12,1.6 5.12,-4.8 V 222.55 H 433" fill="none" stroke="#fff" stroke-opacity="0.34" stroke-width="0.7"/>
<text x="310.2" y="233.55" fill="#fff" text-anchor="start" stroke="#fff" stroke-width="0.65">get</text>
<rect x="326.47" y="225.7" width="101.96" height="10" rx="2.6" fill="#fff" fill-opacity="0.62"/>
<text x="329.47" y="233.55" fill="#000" text-anchor="start" stroke="#000" stroke-width="0.12">unordered_numbers</text>
<path d="M 419.63,229.5 h 3.4 l -1.7,1.9 z" fill="#F4511E"/>
<rect x="436" y="208.2" width="22.2" height="10.3" rx="2.6" fill="#fff" fill-opacity="0.6"/>
<path d="M 439.3,211.3 l 3.9,2.0 l -3.9,2.0" fill="none" stroke="#111" stroke-width="1.05"/>
<path d="M 449.3,212.1 h 3.4 l -1.7,1.9 z" fill="#354499"/>
<path d="M 466.4,205.4 H 561 v 3.2 c 0,6.4 -5.12,-5.12 -5.12,4.8 s 5.12,-1.6 5.12,4.8 V 222.2 v 3.2 c 0,6.4 -5.12,-5.12 -5.12,4.8 s 5.12,-1.6 5.12,4.8 V 239 H 466.4 V 218.2 c 0,-6.4 -5.12,5.12 -5.12,-4.8 s 5.12,1.6 5.12,-4.8 z" fill="#0274ab" fill-rule="evenodd" transform="translate(0.64,0.64)"/>
<path d="M 466.4,205.4 H 561 v 3.2 c 0,6.4 -5.12,-5.12 -5.12,4.8 s 5.12,-1.6 5.12,4.8 V 222.2 v 3.2 c 0,6.4 -5.12,-5.12 -5.12,4.8 s 5.12,-1.6 5.12,4.8 V 239 H 466.4 V 218.2 c 0,-6.4 -5.12,5.12 -5.12,-4.8 s 5.12,1.6 5.12,-4.8 z" fill="#039BE5" fill-rule="evenodd"/>
<path d="M 466.75,239 V 218.2 c 0,-6.4 -5.12,5.12 -5.12,-4.8 s 5.12,1.6 5.12,-4.8 V 205.75 H 561" fill="none" stroke="#fff" stroke-opacity="0.34" stroke-width="0.7"/>
<text x="472.39" y="216.55" fill="#fff" text-anchor="start" stroke="#fff" stroke-width="0.65">select list item</text>
<text x="537.11" y="216.55" fill="#fff" text-anchor="start" stroke="#fff" stroke-width="0.65">list</text>
<text x="526.13" y="233.85" fill="#fff" text-anchor="start" stroke="#fff" stroke-width="0.65">index</text>
<path d="M 561,205.4 H 654 V 222.2 H 561 V 218.2 c 0,-6.4 -5.12,5.12 -5.12,-4.8 s 5.12,1.6 5.12,-4.8 z" fill="#b73c16" fill-rule="evenodd" transform="translate(0.64,0.64)"/>
<path d="M 561,205.4 H 654 V 222.2 H 561 V 218.2 c 0,-6.4 -5.12,5.12 -5.12,-4.8 s 5.12,1.6 5.12,-4.8 z" fill="#F4511E" fill-rule="evenodd"/>
<path d="M 561.35,222.2 V 218.2 c 0,-6.4 -5.12,5.12 -5.12,-4.8 s 5.12,1.6 5.12,-4.8 V 205.75 H 654" fill="none" stroke="#fff" stroke-opacity="0.34" stroke-width="0.7"/>
<text x="567.2" y="216.75" fill="#fff" text-anchor="start" stroke="#fff" stroke-width="0.65">get</text>
<rect x="583.47" y="208.9" width="66.42" height="10" rx="2.6" fill="#fff" fill-opacity="0.62"/>
<text x="586.47" y="216.75" fill="#000" text-anchor="start" stroke="#000" stroke-width="0.12">ordered_list</text>
<path d="M 641.09,212.7 h 3.4 l -1.7,1.9 z" fill="#F4511E"/>
<path d="M 561,222.2 H 679 V 239 H 561 V 235 c 0,-6.4 -5.12,5.12 -5.12,-4.8 s 5.12,1.6 5.12,-4.8 z" fill="#b73c16" fill-rule="evenodd" transform="translate(0.64,0.64)"/>
<path d="M 561,222.2 H 679 V 239 H 561 V 235 c 0,-6.4 -5.12,5.12 -5.12,-4.8 s 5.12,1.6 5.12,-4.8 z" fill="#F4511E" fill-rule="evenodd"/>
<path d="M 561.35,239 V 235 c 0,-6.4 -5.12,5.12 -5.12,-4.8 s 5.12,1.6 5.12,-4.8 V 222.55 H 679" fill="none" stroke="#fff" stroke-opacity="0.34" stroke-width="0.7"/>
<text x="567.2" y="233.55" fill="#fff" text-anchor="start" stroke="#fff" stroke-width="0.65">get</text>
<rect x="583.47" y="225.7" width="91.5" height="10" rx="2.6" fill="#fff" fill-opacity="0.62"/>
<text x="586.47" y="233.55" fill="#000" text-anchor="start" stroke="#000" stroke-width="0.12">ordered_numbers</text>
<path d="M 666.17,229.5 h 3.4 l -1.7,1.9 z" fill="#F4511E"/>
<path d="M 179,247.12 A 5.12,5.12 0 0,1 184.12,242 H 188.6 l 3.84,2.56 1.92,0 3.84,-2.56 H 272.5 v 3.2 c 0,6.4 -5.12,-5.12 -5.12,4.8 s 5.12,-1.6 5.12,4.8 V 258.8 v 3.2 c 0,6.4 -5.12,-5.12 -5.12,4.8 s 5.12,-1.6 5.12,4.8 V 275.8 v 3.2 c 0,6.4 -5.12,-5.12 -5.12,4.8 s 5.12,-1.6 5.12,4.8 V 309.2 H 198.2 l -3.84,2.56 -1.92,0 -3.84,-2.56 H 179 z" fill="#0274ab" fill-rule="evenodd" transform="translate(0.64,0.64)"/>
<path d="M 179,247.12 A 5.12,5.12 0 0,1 184.12,242 H 188.6 l 3.84,2.56 1.92,0 3.84,-2.56 H 272.5 v 3.2 c 0,6.4 -5.12,-5.12 -5.12,4.8 s 5.12,-1.6 5.12,4.8 V 258.8 v 3.2 c 0,6.4 -5.12,-5.12 -5.12,4.8 s 5.12,-1.6 5.12,4.8 V 275.8 v 3.2 c 0,6.4 -5.12,-5.12 -5.12,4.8 s 5.12,-1.6 5.12,4.8 V 309.2 H 198.2 l -3.84,2.56 -1.92,0 -3.84,-2.56 H 179 z" fill="#039BE5" fill-rule="evenodd"/>
<path d="M 179.35,309.2 V 247.12 A 5.12,5.12 0 0,1 184.12,242.35 H 188.6 l 3.84,2.56 1.92,0 3.84,-2.56 H 272.5" fill="none" stroke="#fff" stroke-opacity="0.34" stroke-width="0.7"/>
<text x="185.45" y="253.75" fill="#fff" text-anchor="start" stroke="#fff" stroke-width="0.65">insert list item</text>
<text x="248.61" y="253.75" fill="#fff" text-anchor="start" stroke="#fff" stroke-width="0.65">list</text>
<text x="237.63" y="270.25" fill="#fff" text-anchor="start" stroke="#fff" stroke-width="0.65">index</text>
<text x="242.34" y="287.65" fill="#fff" text-anchor="start" stroke="#fff" stroke-width="0.65">item</text>
<path d="M 272.5,242 H 365 V 258.8 H 272.5 V 254.8 c 0,-6.4 -5.12,5.12 -5.12,-4.8 s 5.12,1.6 5.12,-4.8 z" fill="#b73c16" fill-rule="evenodd" transform="translate(0.64,0.64)"/>
<path d="M 272.5,242 H 365 V 258.8 H 272.5 V 254.8 c 0,-6.4 -5.12,5.12 -5.12,-4.8 s 5.12,1.6 5.12,-4.8 z" fill="#F4511E" fill-rule="evenodd"/>
<path d="M 272.85,258.8 V 254.8 c 0,-6.4 -5.12,5.12 -5.12,-4.8 s 5.12,1.6 5.12,-4.8 V 242.35 H 365" fill="none" stroke="#fff" stroke-opacity="0.34" stroke-width="0.7"/>
<text x="278.7" y="253.35" fill="#fff" text-anchor="start" stroke="#fff" stroke-width="0.65">get</text>
<rect x="294.97" y="245.5" width="66.42" height="10" rx="2.6" fill="#fff" fill-opacity="0.62"/>
<text x="297.97" y="253.35" fill="#000" text-anchor="start" stroke="#000" stroke-width="0.12">ordered_list</text>
<path d="M 352.59,249.3 h 3.4 l -1.7,1.9 z" fill="#F4511E"/>
<path d="M 272.5,258.8 H 390.4 V 275.4 H 272.5 V 271.6 c 0,-6.4 -5.12,5.12 -5.12,-4.8 s 5.12,1.6 5.12,-4.8 z" fill="#b73c16" fill-rule="evenodd" transform="translate(0.64,0.64)"/>
<path d="M 272.5,258.8 H 390.4 V 275.4 H 272.5 V 271.6 c 0,-6.4 -5.12,5.12 -5.12,-4.8 s 5.12,1.6 5.12,-4.8 z" fill="#F4511E" fill-rule="evenodd"/>
<path d="M 272.85,275.4 V 271.6 c 0,-6.4 -5.12,5.12 -5.12,-4.8 s 5.12,1.6 5.12,-4.8 V 259.15 H 390.4" fill="none" stroke="#fff" stroke-opacity="0.34" stroke-width="0.7"/>
<text x="278.7" y="270.05" fill="#fff" text-anchor="start" stroke="#fff" stroke-width="0.65">get</text>
<rect x="294.97" y="262.2" width="91.5" height="10" rx="2.6" fill="#fff" fill-opacity="0.62"/>
<text x="297.97" y="270.05" fill="#000" text-anchor="start" stroke="#000" stroke-width="0.12">ordered_numbers</text>
<path d="M 377.67,266 h 3.4 l -1.7,1.9 z" fill="#F4511E"/>
<path d="M 272.5,276 H 366.4 v 3.2 c 0,6.4 -5.12,-5.12 -5.12,4.8 s 5.12,-1.6 5.12,4.8 V 292.6 v 3.2 c 0,6.4 -5.12,-5.12 -5.12,4.8 s 5.12,-1.6 5.12,4.8 V 309.2 H 272.5 V 288.8 c 0,-6.4 -5.12,5.12 -5.12,-4.8 s 5.12,1.6 5.12,-4.8 z" fill="#0274ab" fill-rule="evenodd" transform="translate(0.64,0.64)"/>
<path d="M 272.5,276 H 366.4 v 3.2 c 0,6.4 -5.12,-5.12 -5.12,4.8 s 5.12,-1.6 5.12,4.8 V 292.6 v 3.2 c 0,6.4 -5.12,-5.12 -5.12,4.8 s 5.12,-1.6 5.12,4.8 V 309.2 H 272.5 V 288.8 c 0,-6.4 -5.12,5.12 -5.12,-4.8 s 5.12,1.6 5.12,-4.8 z" fill="#039BE5" fill-rule="evenodd"/>
<path d="M 272.85,309.2 V 288.8 c 0,-6.4 -5.12,5.12 -5.12,-4.8 s 5.12,1.6 5.12,-4.8 V 276.35 H 366.4" fill="none" stroke="#fff" stroke-opacity="0.34" stroke-width="0.7"/>
<text x="277.79" y="287.65" fill="#fff" text-anchor="start" stroke="#fff" stroke-width="0.65">select list item</text>
<text x="342.51" y="287.65" fill="#fff" text-anchor="start" stroke="#fff" stroke-width="0.65">list</text>
<text x="331.53" y="304.15" fill="#fff" text-anchor="start" stroke="#fff" stroke-width="0.65">index</text>
<path d="M 366.4,276 H 470 V 292.8 H 366.4 V 288.8 c 0,-6.4 -5.12,5.12 -5.12,-4.8 s 5.12,1.6 5.12,-4.8 z" fill="#b73c16" fill-rule="evenodd" transform="translate(0.64,0.64)"/>
<path d="M 366.4,276 H 470 V 292.8 H 366.4 V 288.8 c 0,-6.4 -5.12,5.12 -5.12,-4.8 s 5.12,1.6 5.12,-4.8 z" fill="#F4511E" fill-rule="evenodd"/>
<path d="M 366.75,292.8 V 288.8 c 0,-6.4 -5.12,5.12 -5.12,-4.8 s 5.12,1.6 5.12,-4.8 V 276.35 H 470" fill="none" stroke="#fff" stroke-opacity="0.34" stroke-width="0.7"/>
<text x="372.6" y="287.35" fill="#fff" text-anchor="start" stroke="#fff" stroke-width="0.65">get</text>
<rect x="388.87" y="279.5" width="76.87" height="10" rx="2.6" fill="#fff" fill-opacity="0.62"/>
<text x="391.87" y="287.35" fill="#000" text-anchor="start" stroke="#000" stroke-width="0.12">unordered_list</text>
<path d="M 456.94,283.3 h 3.4 l -1.7,1.9 z" fill="#F4511E"/>
<path d="M 366.4,292.8 H 495 V 309.3 H 366.4 V 305.6 c 0,-6.4 -5.12,5.12 -5.12,-4.8 s 5.12,1.6 5.12,-4.8 z" fill="#b73c16" fill-rule="evenodd" transform="translate(0.64,0.64)"/>
<path d="M 366.4,292.8 H 495 V 309.3 H 366.4 V 305.6 c 0,-6.4 -5.12,5.12 -5.12,-4.8 s 5.12,1.6 5.12,-4.8 z" fill="#F4511E" fill-rule="evenodd"/>
<path d="M 366.75,309.3 V 305.6 c 0,-6.4 -5.12,5.12 -5.12,-4.8 s 5.12,1.6 5.12,-4.8 V 293.15 H 495" fill="none" stroke="#fff" stroke-opacity="0.34" stroke-width="0.7"/>
<text x="372.6" y="304" fill="#fff" text-anchor="start" stroke="#fff" stroke-width="0.65">get</text>
<rect x="388.87" y="296.15" width="101.96" height="10" rx="2.6" fill="#fff" fill-opacity="0.62"/>
<text x="391.87" y="304" fill="#000" text-anchor="start" stroke="#000" stroke-width="0.12">unordered_numbers</text>
<path d="M 482.03,299.95 h 3.4 l -1.7,1.9 z" fill="#F4511E"/>
<path d="M 179.4,309 H 189 l 3.84,2.56 1.92,0 3.84,-2.56 H 216 V 325.2 H 184.52 a 5.12,5.12 0 0,1 -5.12,-5.12 z" fill="#bf8000" fill-rule="evenodd" transform="translate(0.64,0.64)"/>
<path d="M 179.4,309 H 189 l 3.84,2.56 1.92,0 3.84,-2.56 H 216 V 325.2 H 184.52 a 5.12,5.12 0 0,1 -5.12,-5.12 z" fill="#FFAB00" fill-rule="evenodd"/>
<path d="M 179.75,320.08 V 309.35 H 216" fill="none" stroke="#fff" stroke-opacity="0.34" stroke-width="0.7"/>
<text x="185.8" y="320.45" fill="#fff" text-anchor="start" stroke="#fff" stroke-width="0.65">break</text>
<path d="M 147.5,346.22 A 5.12,5.12 0 0,1 152.62,341.1 H 157.1 l 3.84,2.56 1.92,0 3.84,-2.56 H 269 v 3.2 c 0,6.4 -5.12,-5.12 -5.12,4.8 s 5.12,-1.6 5.12,4.8 V 358.2 v 3.2 c 0,6.4 -5.12,-5.12 -5.12,4.8 s 5.12,-1.6 5.12,4.8 V 391.6 H 166.7 l -3.84,2.56 -1.92,0 -3.84,-2.56 H 152.62 a 5.12,5.12 0 0,1 -5.12,-5.12 z" fill="#0274ab" fill-rule="evenodd" transform="translate(0.64,0.64)"/>
<path d="M 147.5,346.22 A 5.12,5.12 0 0,1 152.62,341.1 H 157.1 l 3.84,2.56 1.92,0 3.84,-2.56 H 269 v 3.2 c 0,6.4 -5.12,-5.12 -5.12,4.8 s 5.12,-1.6 5.12,4.8 V 358.2 v 3.2 c 0,6.4 -5.12,-5.12 -5.12,4.8 s 5.12,-1.6 5.12,4.8 V 391.6 H 166.7 l -3.84,2.56 -1.92,0 -3.84,-2.56 H 152.62 a 5.12,5.12 0 0,1 -5.12,-5.12 z" fill="#039BE5" fill-rule="evenodd"/>
<path d="M 147.85,386.48 V 346.22 A 5.12,5.12 0 0,1 152.62,341.45 H 157.1 l 3.84,2.56 1.92,0 3.84,-2.56 H 269" fill="none" stroke="#fff" stroke-opacity="0.34" stroke-width="0.7"/>
<g transform="translate(153.9,344.88) scale(0.64)" opacity="0.7"><rect width="16" height="16" rx="4" ry="4" fill="#00f" stroke="#fff" stroke-width="1"/><polygon fill="#fff" stroke="#fff" stroke-width="0.8" stroke-linejoin="round" points="13.10,8.00 10.77,9.60 10.55,12.42 8.00,11.20 5.45,12.42 5.23,9.60 2.90,8.00 5.23,6.40 5.45,3.58 8.00,4.80 10.55,3.58 10.77,6.40"/><circle r="2.1" cx="8" cy="8" fill="#00f"/></g>
<text x="171.14" y="353.25" fill="#fff" text-anchor="start" stroke="#fff" stroke-width="0.65">add items to list</text>
<text x="245.31" y="353.25" fill="#fff" text-anchor="start" stroke="#fff" stroke-width="0.65">list</text>
<text x="238.84" y="369.65" fill="#fff" text-anchor="start" stroke="#fff" stroke-width="0.65">item</text>
<path d="M 269,341.3 H 362.4 V 358.2 H 269 V 354.1 c 0,-6.4 -5.12,5.12 -5.12,-4.8 s 5.12,1.6 5.12,-4.8 z" fill="#b73c16" fill-rule="evenodd" transform="translate(0.64,0.64)"/>
<path d="M 269,341.3 H 362.4 V 358.2 H 269 V 354.1 c 0,-6.4 -5.12,5.12 -5.12,-4.8 s 5.12,1.6 5.12,-4.8 z" fill="#F4511E" fill-rule="evenodd"/>
<path d="M 269.35,358.2 V 354.1 c 0,-6.4 -5.12,5.12 -5.12,-4.8 s 5.12,1.6 5.12,-4.8 V 341.65 H 362.4" fill="none" stroke="#fff" stroke-opacity="0.34" stroke-width="0.7"/>
<text x="275.2" y="352.9" fill="#fff" text-anchor="start" stroke="#fff" stroke-width="0.65">get</text>
<rect x="291.47" y="345.05" width="66.42" height="10" rx="2.6" fill="#fff" fill-opacity="0.62"/>
<text x="294.47" y="352.9" fill="#000" text-anchor="start" stroke="#000" stroke-width="0.12">ordered_list</text>
<path d="M 349.09,348.85 h 3.4 l -1.7,1.9 z" fill="#F4511E"/>
<path d="M 269,358.2 H 364 v 3.2 c 0,6.4 -5.12,-5.12 -5.12,4.8 s 5.12,-1.6 5.12,4.8 V 374.9 v 3.2 c 0,6.4 -5.12,-5.12 -5.12,4.8 s 5.12,-1.6 5.12,4.8 V 391.6 H 269 V 371 c 0,-6.4 -5.12,5.12 -5.12,-4.8 s 5.12,1.6 5.12,-4.8 z" fill="#0274ab" fill-rule="evenodd" transform="translate(0.64,0.64)"/>
<path d="M 269,358.2 H 364 v 3.2 c 0,6.4 -5.12,-5.12 -5.12,4.8 s 5.12,-1.6 5.12,4.8 V 374.9 v 3.2 c 0,6.4 -5.12,-5.12 -5.12,4.8 s 5.12,-1.6 5.12,4.8 V 391.6 H 269 V 371 c 0,-6.4 -5.12,5.12 -5.12,-4.8 s 5.12,1.6 5.12,-4.8 z" fill="#039BE5" fill-rule="evenodd"/>
<path d="M 269.35,391.6 V 371 c 0,-6.4 -5.12,5.12 -5.12,-4.8 s 5.12,1.6 5.12,-4.8 V 358.55 H 364" fill="none" stroke="#fff" stroke-opacity="0.34" stroke-width="0.7"/>
<text x="275.39" y="369.35" fill="#fff" text-anchor="start" stroke="#fff" stroke-width="0.65">select list item</text>
<text x="340.11" y="369.35" fill="#fff" text-anchor="start" stroke="#fff" stroke-width="0.65">list</text>
<text x="329.13" y="386.5" fill="#fff" text-anchor="start" stroke="#fff" stroke-width="0.65">index</text>
<path d="M 364,358.2 H 467 V 375 H 364 V 371 c 0,-6.4 -5.12,5.12 -5.12,-4.8 s 5.12,1.6 5.12,-4.8 z" fill="#b73c16" fill-rule="evenodd" transform="translate(0.64,0.64)"/>
<path d="M 364,358.2 H 467 V 375 H 364 V 371 c 0,-6.4 -5.12,5.12 -5.12,-4.8 s 5.12,1.6 5.12,-4.8 z" fill="#F4511E" fill-rule="evenodd"/>
<path d="M 364.35,375 V 371 c 0,-6.4 -5.12,5.12 -5.12,-4.8 s 5.12,1.6 5.12,-4.8 V 358.55 H 467" fill="none" stroke="#fff" stroke-opacity="0.34" stroke-width="0.7"/>
<text x="370.2" y="369.55" fill="#fff" text-anchor="start" stroke="#fff" stroke-width="0.65">get</text>
<rect x="386.47" y="361.7" width="76.87" height="10" rx="2.6" fill="#fff" fill-opacity="0.62"/>
<text x="389.47" y="369.55" fill="#000" text-anchor="start" stroke="#000" stroke-width="0.12">unordered_list</text>
<path d="M 454.54,365.5 h 3.4 l -1.7,1.9 z" fill="#F4511E"/>
<path d="M 364,375 H 492 V 391.6 H 364 V 387.8 c 0,-6.4 -5.12,5.12 -5.12,-4.8 s 5.12,1.6 5.12,-4.8 z" fill="#b73c16" fill-rule="evenodd" transform="translate(0.64,0.64)"/>
<path d="M 364,375 H 492 V 391.6 H 364 V 387.8 c 0,-6.4 -5.12,5.12 -5.12,-4.8 s 5.12,1.6 5.12,-4.8 z" fill="#F4511E" fill-rule="evenodd"/>
<path d="M 364.35,391.6 V 387.8 c 0,-6.4 -5.12,5.12 -5.12,-4.8 s 5.12,1.6 5.12,-4.8 V 375.35 H 492" fill="none" stroke="#fff" stroke-opacity="0.34" stroke-width="0.7"/>
<text x="370.2" y="386.25" fill="#fff" text-anchor="start" stroke="#fff" stroke-width="0.65">get</text>
<rect x="386.47" y="378.4" width="101.96" height="10" rx="2.6" fill="#fff" fill-opacity="0.62"/>
<text x="389.47" y="386.25" fill="#000" text-anchor="start" stroke="#000" stroke-width="0.12">unordered_numbers</text>
<path d="M 479.63,382.2 h 3.4 l -1.7,1.9 z" fill="#F4511E"/>
</svg>
</body></html>
